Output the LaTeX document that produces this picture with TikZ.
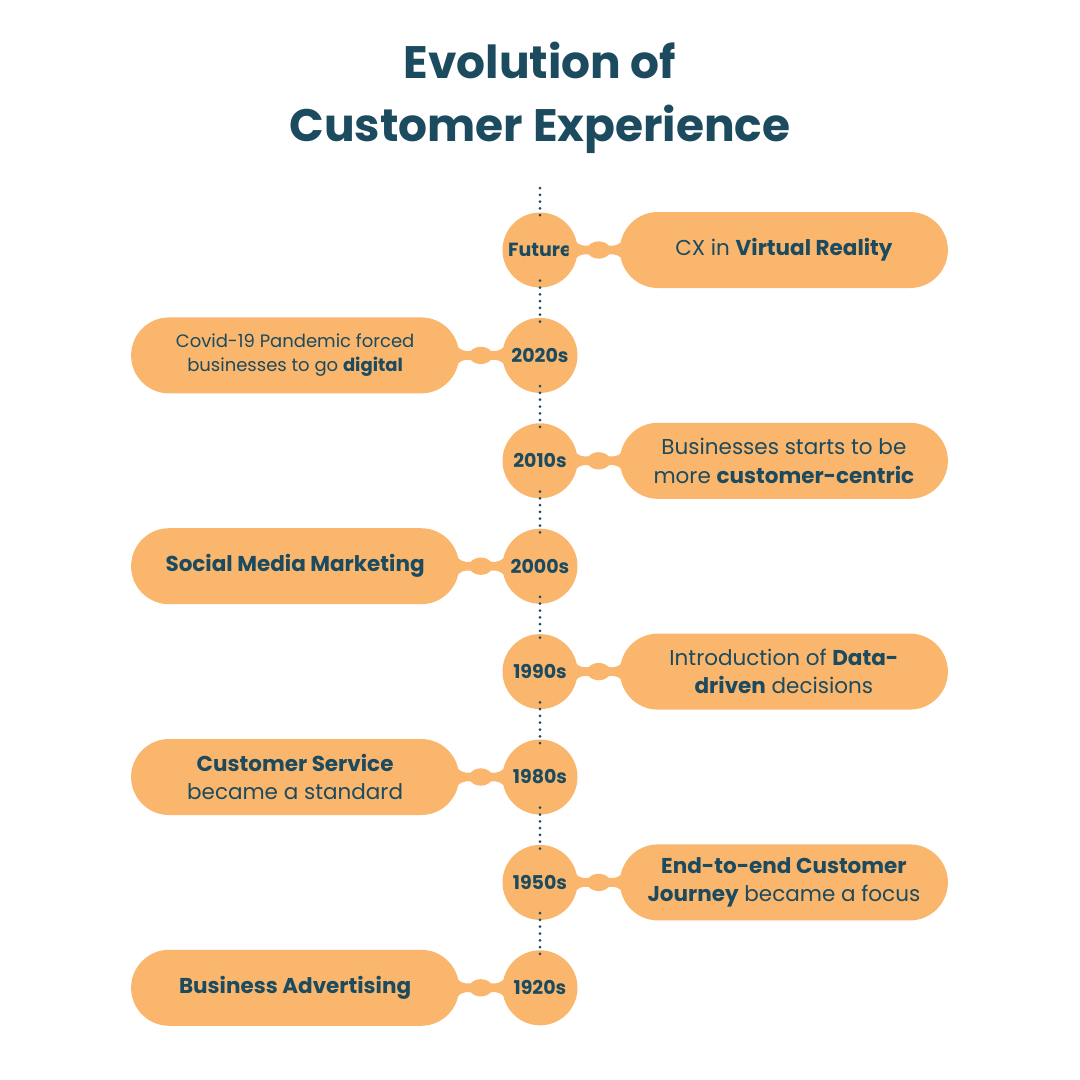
\documentclass[tikz,border=0pt]{standalone}
\usepackage{fontspec}
\setmainfont{Poppins}
\usepackage{tikz}
\usetikzlibrary{positioning, calc}
\definecolor{cxorange}{HTML}{F9B66C}
\definecolor{cxteal}{HTML}{1C4A5E}
\tikzset{
  % Era circles
  era/.style={
    circle, minimum size=75pt, inner sep=0pt, fill=cxorange,
    text=cxteal, font=\fontsize{19}{20}\selectfont\bfseries,
  },
  % Event pills
  event/.style={
    rectangle, rounded corners=38pt, minimum width=328pt, minimum height=76pt,
    fill=cxorange, text=cxteal, align=center, inner sep=0pt,
    font=\fontsize{21.5}{28.5}\selectfont,
  },
  eventsmall/.style={event, font=\fontsize{18}{24}\selectfont},
  % Dotted timeline
  dotline/.style={cxteal, line width=3pt, line cap=round,
    dash pattern=on 0pt off 6.8pt},
  % Title
  titletext/.style={text=cxteal, align=center,
    font=\fontsize{45.5}{63}\selectfont\bfseries},
}
% neck between circle and pill
\newcommand\neck[2]{%
  \path (#1) -- (#2) coordinate[midway] (nk);
  \fill[cxorange, shift={(nk)}]
    (-30,-14) .. controls (-18,-4) .. (-10,-4.5)
    .. controls (-5,-10) and (5,-10) .. (10,-4.5)
    .. controls (18,-4) .. (30,-14) -- (30,14)
    .. controls (18,4) .. (10,4.5)
    .. controls (5,10) and (-5,10) .. (-10,4.5)
    .. controls (-18,4) .. (-30,14) -- cycle;
}
\begin{document}
\begin{tikzpicture}[x=1pt, y=-1pt]
  \useasboundingbox[fill=white] (0,0) rectangle (1080,1080);

  % Title
  \node[titletext] (title) at (540,98) {Evolution of\\Customer Experience};

  % Eras
  \node[era] (future) at (540,250) {Future};
  \node[era, below=30pt of future] (e2020) {2020s};
  \node[era, below=30pt of e2020] (e2010) {2010s};
  \node[era, below=30pt of e2010] (e2000) {2000s};
  \node[era, below=30pt of e2000] (e1990) {1990s};
  \node[era, below=30pt of e1990] (e1980) {1980s};
  \node[era, below=30pt of e1980] (e1950) {1950s};
  \node[era, below=30pt of e1950] (e1920) {1920s};
  \coordinate (top) at (540,188);

  % Events
  \node[event, right=42pt of future] (vr) {CX in \textbf{Virtual Reality}};
  \node[eventsmall, left=43pt of e2020] (covid)
    {Covid-19 Pandemic forced\\businesses to go \textbf{digital}};
  \node[event, right=42pt of e2010] (centric)
    {Businesses starts to be\\more \textbf{customer-centric}};
  \node[event, left=43pt of e2000] (social) {\textbf{Social Media Marketing}};
  \node[event, right=42pt of e1990] (data)
    {Introduction of \textbf{Data-}\\\textbf{driven} decisions};
  \node[event, left=43pt of e1980] (service)
    {\textbf{Customer Service}\\became a standard};
  \node[event, right=42pt of e1950] (journey)
    {\textbf{End-to-end Customer}\\\textbf{Journey} became a focus};
  \node[event, left=43pt of e1920] (advert) {\textbf{Business Advertising}};

  % Necks
  \neck{future.east}{vr.west}
  \neck{covid.east}{e2020.west}
  \neck{e2010.east}{centric.west}
  \neck{social.east}{e2000.west}
  \neck{e1990.east}{data.west}
  \neck{service.east}{e1980.west}
  \neck{e1950.east}{journey.west}
  \neck{advert.east}{e1920.west}

  % Timeline dots
  \draw[dotline] (top) -- ([yshift=-4pt]future.north);
  \foreach \a/\b in {future/e2020, e2020/e2010, e2010/e2000, e2000/e1990,
                     e1990/e1980, e1980/e1950, e1950/e1920}
    \draw[dotline] ([yshift=7pt]\a.south) -- ([yshift=-4pt]\b.north);

\end{tikzpicture}
\end{document}
